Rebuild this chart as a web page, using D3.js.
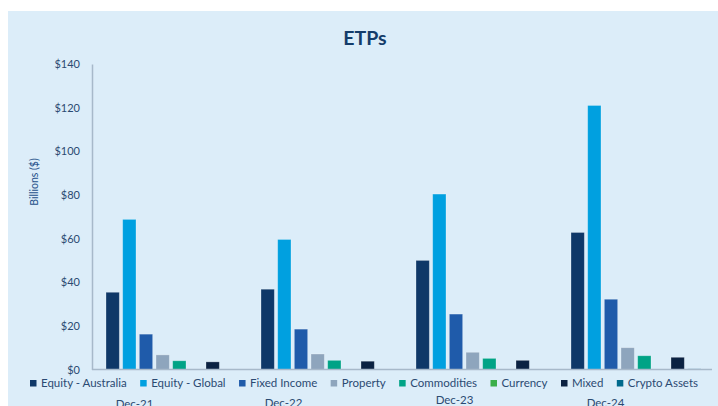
<!DOCTYPE html>
<html>
<head>
<meta charset="utf-8">
<script src="https://cdn.jsdelivr.net/npm/d3@7"></script>
<style>
  html, body { margin: 0; padding: 0; background: #fff; }
  svg text { font-family: Lato, "Open Sans", sans-serif; }
</style>
</head>
<body>
<svg width="718" height="406"></svg>
<script>
// chart data
const periods = ["Dec-21", "Dec-22", "Dec-23", "Dec-24"];
const seriesNames = ["Equity - Australia", "Equity - Global", "Fixed Income", "Property",
                     "Commodities", "Currency", "Mixed", "Crypto Assets"];
const equityAustralia = [35.4, 36.8, 50.0, 62.8];
const equityGlobal = [68.8, 59.6, 80.4, 121.0];
const fixedIncome = [16.2, 18.5, 25.4, 32.2];
const property = [6.7, 7.1, 7.9, 10.0];
const commodities = [4.0, 4.2, 5.1, 6.3];
const currency = [0.1, 0.1, 0.1, 0.1];
const mixed = [3.5, 3.8, 4.2, 5.6];
const cryptoAssets = [0, 0, 0, 0.3];
const yTicks = [0, 20, 40, 60, 80, 100, 120, 140];

const colors = ["#0f3868", "#00a0e0", "#1f5baa", "#8ea5bd", "#00a386", "#3aae4a", "#0b2242", "#00698c"];
// category labels sit off their group centre, as in the source picture
const labelShift = [-35, -41, -25, -29];
const labelDrop = [0, -1, -4, -1];

window.renderChart = function () {
    const series = [equityAustralia, equityGlobal, fixedIncome, property,
                    commodities, currency, mixed, cryptoAssets];
    const svg = d3.select("svg");

    // background panel
    svg.append("rect")
        .attr("x", 8).attr("y", 11)
        .attr("width", 718 - 8).attr("height", 406 - 11)
        .attr("fill", "#dcedf9");

    const x0 = d3.scaleBand().domain(periods).range([92, 712]);
    const x1 = d3.scaleBand().domain(seriesNames)
        .range([14, x0.bandwidth() - 11]).paddingInner(0.2).paddingOuter(0);
    const y = d3.scaleLinear().domain([0, 140]).range([369.5, 64]);

    // title
    svg.append("text")
        .attr("x", 365).attr("y", 45)
        .attr("text-anchor", "middle")
        .attr("font-size", 19.5).attr("font-weight", "bold")
        .attr("fill", "#143c6a")
        .text("ETPs");

    // y axis
    const yAxis = svg.append("g")
        .attr("transform", "translate(92,0)")
        .call(d3.axisLeft(y).tickValues(yTicks).tickSize(0).tickPadding(12).tickFormat(d => "$" + d));
    yAxis.select(".domain").attr("stroke", "#a7b9ca").attr("stroke-width", 1.5);
    yAxis.selectAll("text").attr("font-size", 11).attr("fill", "#2b4a72")
        .attr("font-family", "Lato, sans-serif");

    svg.append("text")
        .attr("transform", "translate(38,182) rotate(-90)")
        .attr("text-anchor", "middle")
        .attr("font-size", 10.5)
        .attr("fill", "#24508a")
        .text("Billions ($)");

    // bars
    const groups = svg.append("g").selectAll("g")
        .data(periods)
        .join("g")
        .attr("transform", d => `translate(${x0(d)},0)`);

    groups.selectAll("rect")
        .data((p, i) => seriesNames.map((name, s) => ({ name, s, value: series[s][i] })))
        .join("rect")
        .attr("x", d => x1(d.name))
        .attr("width", x1.bandwidth())
        .attr("y", d => y(d.value))
        .attr("height", d => y(0) - y(d.value))
        .attr("fill", d => colors[d.s])
        .attr("stroke", "rgba(255,255,255,0.35)")
        .attr("stroke-width", 0.8);

    // x axis line
    svg.append("line")
        .attr("x1", 92).attr("x2", 712)
        .attr("y1", y(0)).attr("y2", y(0))
        .attr("stroke", "#a7b9ca").attr("stroke-width", 1.5);

    // category labels (partly hidden under the legend, as in the source)
    svg.append("g").selectAll("text")
        .data(periods)
        .join("text")
        .attr("x", (d, i) => x0(d) + x0.bandwidth() / 2 + labelShift[i])
        .attr("y", (d, i) => 408 + labelDrop[i])
        .attr("text-anchor", "middle")
        .attr("font-size", 11.5)
        .attr("fill", "#2b4a72")
        .text(d => d);

    // legend, laid out in one row between x=30 and x=698
    const legend = svg.append("g");
    const items = legend.selectAll("g")
        .data(seriesNames)
        .join("g");
    items.append("rect")
        .attr("width", 6.5).attr("height", 6.5)
        .attr("y", 380)
        .attr("fill", (d, i) => colors[i]);
    items.append("text")
        .attr("x", 11)
        .attr("y", 387)
        .attr("font-size", 11.5)
        .attr("fill", "#2b4a72")
        .text(d => d);

    const widths = [];
    items.select("text").each(function () { widths.push(11 + this.getComputedTextLength()); });
    const total = d3.sum(widths);
    const gap = (698 - 30 - total) / (seriesNames.length - 1);
    let cx = 30;
    items.attr("transform", (d, i) => {
        const t = `translate(${cx},0)`;
        cx += widths[i] + gap;
        return t;
    });
};

renderChart();
</script>
</body>
</html>
